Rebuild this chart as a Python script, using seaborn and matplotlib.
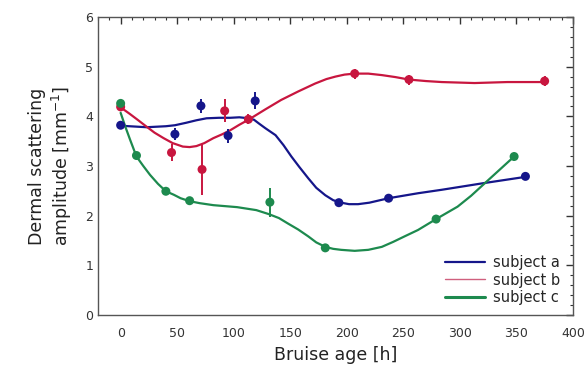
import numpy as np
import pandas as pd
import matplotlib
matplotlib.use("Agg")
import matplotlib.pyplot as plt
import seaborn as sns
from matplotlib.ticker import MultipleLocator
from matplotlib.lines import Line2D

sns.set_theme(style="white")
plt.rcParams['font.family'] = ['DejaVu Sans']

# ---- measured points ----
a_x = [0, 48, 71, 95, 119, 193, 237, 358]
a_y = [3.82, 3.64, 4.21, 3.61, 4.31, 2.26, 2.35, 2.79]
a_err = [0.06, 0.12, 0.14, 0.14, 0.17, 0.05, 0.05, 0.05]

b_x = [0, 45, 72, 92, 113, 207, 255, 375]
b_y = [4.19, 3.27, 2.93, 4.11, 3.94, 4.86, 4.74, 4.71]
b_err = [0.06, 0.17, 0.52, 0.23, 0.1, 0.1, 0.1, 0.1]

c_x = [0, 14, 40, 61, 132, 181, 279, 348]
c_y = [4.26, 3.21, 2.49, 2.30, 2.27, 1.35, 1.93, 3.19]
c_err = [0.05, 0.05, 0.06, 0.05, 0.29, 0.07, 0.05, 0.05]

# ---- fitted curves ----
a_cx = [0, 23, 40, 48, 58, 67, 76, 87, 97, 105, 113, 118, 122, 128, 137, 144, 151, 158,
        166, 173, 181, 188, 195, 202, 210, 220, 237, 263, 284, 320, 358]
a_cy = [3.81, 3.78, 3.80, 3.82, 3.87, 3.92, 3.96, 3.97, 3.97, 3.98, 3.96, 3.93, 3.86, 3.76,
        3.62, 3.42, 3.19, 2.98, 2.75, 2.56, 2.41, 2.31, 2.26, 2.23, 2.23, 2.26, 2.35, 2.45,
        2.52, 2.65, 2.78]

b_cx = [0, 8, 15, 23, 30, 38, 46, 55, 61, 67, 74, 82, 90, 97, 105, 113, 128, 142, 157,
        172, 182, 190, 198, 207, 219, 231, 243, 255, 270, 284, 313, 342, 375]
b_cy = [4.18, 4.05, 3.93, 3.79, 3.67, 3.56, 3.46, 3.39, 3.38, 3.40, 3.46, 3.56, 3.64, 3.72,
        3.83, 3.93, 4.14, 4.33, 4.50, 4.66, 4.75, 4.80, 4.84, 4.86, 4.86, 4.83, 4.79, 4.74,
        4.71, 4.69, 4.67, 4.69, 4.69]

c_cx = [0, 4, 8.5, 14, 20, 26, 33, 40, 47, 53, 61, 70, 82, 103, 120, 131, 140, 148, 157,
        166, 173, 181, 188, 195, 207, 219, 231, 241, 251, 263, 279, 298, 310, 322, 335, 348]
c_cy = [4.07, 3.80, 3.52, 3.19, 3.00, 2.82, 2.64, 2.49, 2.42, 2.35, 2.29, 2.25, 2.21, 2.17,
        2.11, 2.03, 1.95, 1.84, 1.72, 1.58, 1.46, 1.37, 1.33, 1.31, 1.29, 1.31, 1.37, 1.47,
        1.58, 1.71, 1.93, 2.18, 2.40, 2.65, 2.92, 3.19]

subjects = ["subject a", "subject b", "subject c"]
colors = {"subject a": "#15168a", "subject b": "#c8163f", "subject c": "#1d8a4e"}

curves = pd.concat([
    pd.DataFrame({"t": a_cx, "v": a_cy, "s": "subject a"}),
    pd.DataFrame({"t": b_cx, "v": b_cy, "s": "subject b"}),
    pd.DataFrame({"t": c_cx, "v": c_cy, "s": "subject c"}),
])
points = pd.concat([
    pd.DataFrame({"t": a_x, "v": a_y, "e": a_err, "s": "subject a"}),
    pd.DataFrame({"t": b_x, "v": b_y, "e": b_err, "s": "subject b"}),
    pd.DataFrame({"t": c_x, "v": c_y, "e": c_err, "s": "subject c"}),
])

fig = plt.figure(figsize=(5.87, 3.70), dpi=100)
ax = fig.add_axes([0.167, 0.149, 0.809, 0.805])

sns.lineplot(data=curves, x="t", y="v", hue="s", palette=colors, sort=False,
             estimator=None, linewidth=1.6, ax=ax, legend=False)
for s in subjects:
    d = points[points.s == s]
    ax.errorbar(d.t, d.v, yerr=d.e, fmt="none", ecolor=colors[s], elinewidth=1.4, capsize=0)
sns.scatterplot(data=points, x="t", y="v", hue="s", palette=colors, s=42,
                edgecolor="none", ax=ax, legend=False, zorder=3)

ax.set_xlim(-20, 400)
ax.set_ylim(0, 6)
ax.xaxis.set_major_locator(MultipleLocator(50))
ax.xaxis.set_minor_locator(MultipleLocator(10))
ax.yaxis.set_major_locator(MultipleLocator(1))
ax.yaxis.set_minor_locator(MultipleLocator(0.2))
ax.tick_params(which="both", direction="in", top=True, right=True, colors="#333333",
               labelcolor="#333333", labelsize=9)
ax.tick_params(which="major", length=5, width=1)
ax.tick_params(which="minor", length=2.5, width=0.8)
ax.tick_params(axis="x", pad=9)
for sp in ax.spines.values():
    sp.set_color("#555555")
    sp.set_linewidth(1.0)

ax.set_xlabel("Bruise age [h]", fontsize=12.5, color="#222222", labelpad=4)
ax.set_ylabel("Dermal scattering\namplitude [mm$^{-1}$]", fontsize=12.5, color="#222222", labelpad=8)

handles = [Line2D([], [], color="#15168a", lw=1.6),
           Line2D([], [], color="#d0607e", lw=1.0),
           Line2D([], [], color="#1d8a4e", lw=2.2)]
ax.legend(handles, subjects, loc="lower right", frameon=False, fontsize=10.5,
          handlelength=2.8, handletextpad=0.5, labelspacing=0.15,
          bbox_to_anchor=(1.0, -0.01))

fig.savefig("out.png", dpi=100)
